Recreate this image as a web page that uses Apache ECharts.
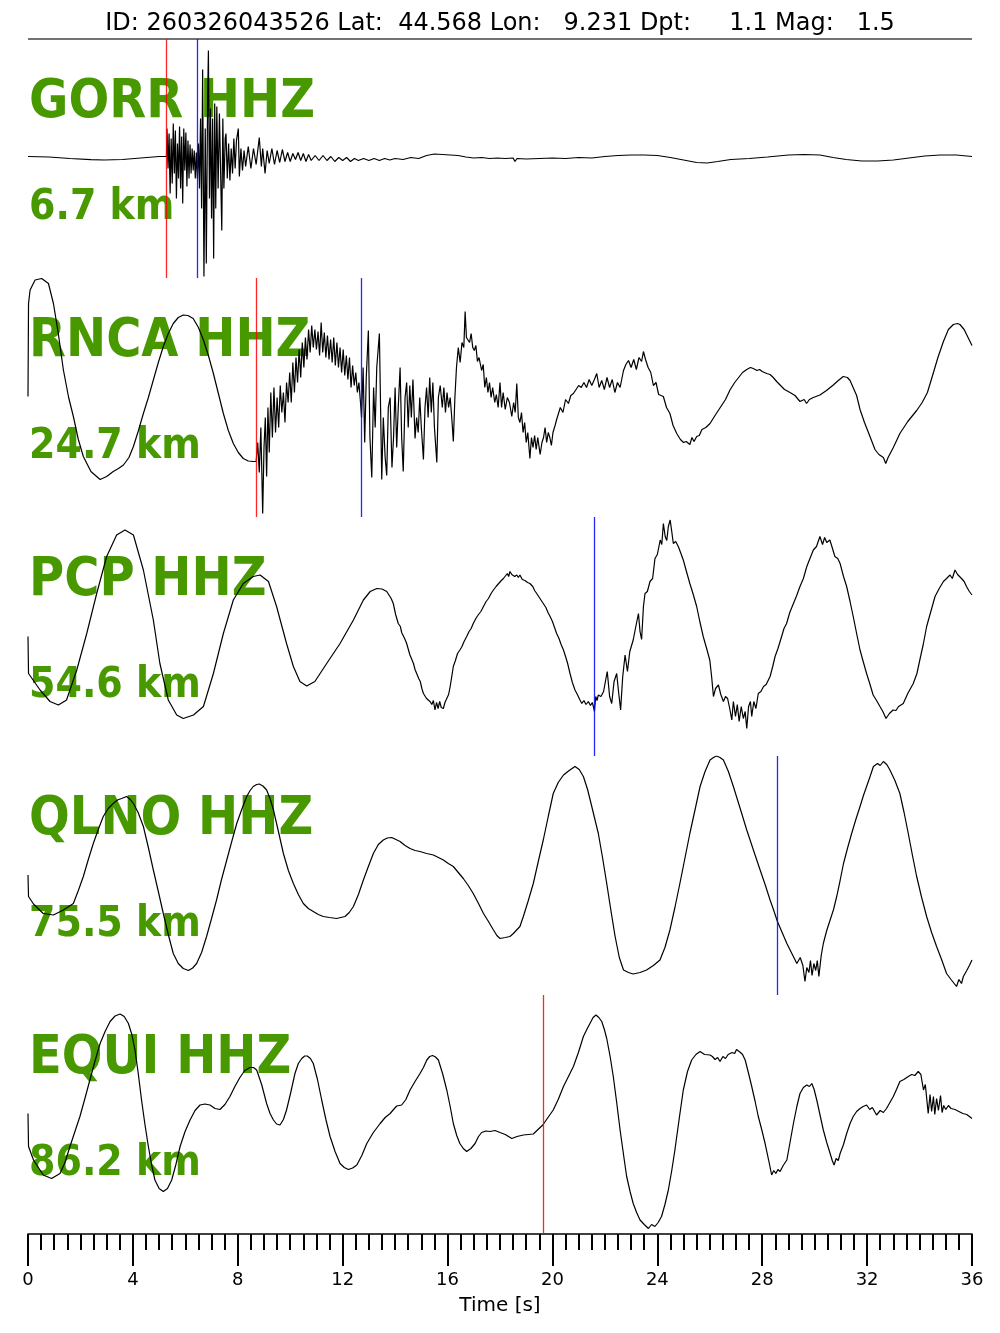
<!DOCTYPE html>
<html><head><meta charset="utf-8">
<script src="https://cdn.jsdelivr.net/npm/echarts@6/dist/echarts.min.js"></script>
<style>html,body{margin:0;padding:0;background:#fff}#c{width:1000px;height:1333px}</style>
</head><body><div id="c"></div><script>
const titleText = 'ID: 260326043526 Lat:  44.568 Lon:   9.231 Dpt:     1.1 Mag:   1.5';
const stations = ['GORR HHZ', 'RNCA HHZ', 'PCP HHZ', 'QLNO HHZ', 'EQUI HHZ'];
const distances = ['6.7 km', '24.7 km', '54.6 km', '75.5 km', '86.2 km'];
const pPicks = [5.26, 8.70, null, null, 19.64];
const sPicks = [6.45, 12.70, 21.59, 28.56, null];
const xAxisName = 'Time [s]';

const gorrTrace = [[0,2],[0.8,1.5],[1.6,0],[2.4,-1.2],[2.9,-1.5],[3.6,-1],[4.3,0.5],[5.0,2],[5.28,2],
[5.30,30],[5.34,-10],[5.38,25],[5.42,-35],[5.46,20],[5.50,-25],[5.54,35],[5.58,-15],[5.62,28],[5.66,-40],[5.70,15],[5.74,-20],[5.78,32],[5.82,-30],[5.86,22],[5.90,-45],[5.94,30],[5.98,-12],[6.02,26],[6.06,-28],[6.10,18],[6.14,-20],[6.18,14],[6.22,-15],[6.26,10],[6.30,-12],[6.34,8],[6.38,-20],[6.42,6],[6.46,-20],[6.50,15],[6.54,-30],[6.58,40],[6.62,-50],[6.66,89],[6.71,-118],[6.76,30],[6.80,-105],[6.85,60],[6.88,108],[6.92,-40],[6.96,50],[7.00,-60],[7.04,40],[7.08,-100],[7.12,55],[7.16,-50],[7.20,52],[7.25,-30],[7.30,45],[7.35,-20],[7.39,-72],[7.43,40],[7.47,-30],[7.52,20],[7.55,25],[7.60,-20],[7.65,15],[7.70,-22],[7.75,10],[7.80,-15],[7.85,20],[7.90,-10],[7.95,18],[8.02,30],[8.06,-18],[8.12,10],[8.18,-12],[8.24,8],[8.30,-8],[8.40,12],[8.50,-10],[8.60,10],[8.70,-6],[8.82,21],[8.90,-8],[8.95,10],[9.04,-15],[9.12,8],[9.20,-5],[9.30,10],[9.40,-6],[9.50,8],[9.60,-4],[9.70,9],[9.80,-3],[9.90,6],[10.0,-3],[10.1,5],[10.2,-1],[10.3,6],[10.4,-2],[10.5,5],[10.6,-3],[10.7,4],[10.8,-2],[10.95,3],[11.1,-2],[11.25,3],[11.4,-2],[11.55,2],[11.7,-3],[11.85,1],[12.0,-2],[12.15,1],[12.3,-3],[12.45,0],[12.6,-2],[12.8,0],[13.0,-2],[13.2,0],[13.4,-2],[13.6,0],[13.8,-1.5],[14.0,0],[14.3,-1],[14.6,1],[14.9,0],[15.2,3],[15.5,4.5],[15.8,4],[16.1,3.5],[16.4,3],[16.7,1.5],[17.0,0.5],[17.3,1],[17.6,0],[17.9,0.5],[18.2,0],[18.5,0.5],[18.57,-3],[18.65,0],[19.0,-0.5],[19.5,0],[20.0,0.5],[20.5,0],[21.0,1],[21.5,0.5],[22.0,2],[22.5,3],[23.0,3.5],[23.5,3.5],[24.0,3],[24.5,1],[25.0,-1.5],[25.5,-4],[25.9,-4.5],[26.3,-3],[26.8,-1],[27.5,0],[28.2,1.5],[29.0,3.5],[29.6,4],[30.2,3.5],[30.7,1],[31.2,-1],[31.8,-2.5],[32.4,-2.5],[33.0,-1.5],[33.6,0.5],[34.2,2.5],[34.8,3.5],[35.4,3.5],[36.0,2]];

const rncaTrace = [[0,1],[0.02,94],[0.08,107.5],[0.27,117.5],[0.52,119],[0.78,114],[0.97,94],[1.15,65],[1.35,27.5],[1.55,0],[1.73,-19],[1.92,-42],[2.11,-59],[2.4,-74],[2.75,-82],[3.0,-79],[3.25,-74],[3.45,-71],[3.64,-67.5],[3.85,-60],[4.02,-49],[4.2,-34],[4.40,-16],[4.59,0],[4.78,17.5],[4.97,35],[5.16,51],[5.35,64],[5.54,74],[5.73,80],[5.92,82.5],[6.1,82],[6.30,79],[6.5,70],[6.69,57.5],[6.88,42],[7.07,24],[7.26,4],[7.45,-16],[7.64,-33],[7.83,-46],[8.02,-55],[8.21,-61],[8.4,-63.5],[8.59,-64],[8.70,-64],
[8.76,-45],[8.82,-75],[8.88,-30],[8.95,-116],[9.00,-50],[9.05,-20],[9.10,-79],[9.15,-10],[9.20,-55],[9.26,5],[9.32,-40],[9.38,10],[9.44,-35],[9.50,0],[9.56,-30],[9.62,12],[9.68,-15],[9.74,5],[9.80,-25],[9.86,15],[9.92,-5],[9.98,25],[10.04,-5],[10.10,35],[10.16,5],[10.22,40],[10.28,15],[10.34,48],[10.40,20],[10.46,55],[10.52,30],[10.58,60],[10.64,38],[10.70,68],[10.76,45],[10.82,72],[10.88,50],[10.94,68],[11.00,48],[11.06,66],[11.12,42],[11.18,75],[11.24,45],[11.30,65],[11.36,40],[11.42,62],[11.48,38],[11.54,58],[11.60,35],[11.66,60],[11.72,32],[11.78,55],[11.84,30],[11.90,50],[11.96,25],[12.02,48],[12.08,22],[12.14,42],[12.20,18],[12.26,40],[12.32,10],[12.38,32],[12.44,12],[12.50,25],[12.56,5],[12.62,15],[12.68,-5],
[12.72,-20],[12.78,30],[12.84,-45],[12.90,20],[12.98,67],[13.04,-40],[13.11,-80],[13.18,10],[13.24,-30],[13.30,30],[13.40,64],[13.49,-82],[13.55,-20],[13.62,-60],[13.68,-78],[13.74,-10],[13.81,0],[13.88,-70],[13.94,-40],[14.00,10],[14.06,-50],[14.12,-10],[14.19,30],[14.25,-40],[14.31,-74],[14.38,0],[14.44,15],[14.50,-30],[14.56,12],[14.62,-20],[14.68,18],[14.76,-41],[14.82,-20],[14.88,-35],[14.94,0],[15.00,-30],[15.08,-62],[15.14,-10],[15.20,10],[15.26,-20],[15.32,20],[15.38,-15],[15.44,15],[15.50,-30],[15.59,-65],[15.65,0],[15.72,12],[15.80,-10],[15.86,10],[15.92,-15],[15.98,5],[16.04,-10],[16.10,0],[16.16,-20],[16.22,-44],[16.28,0],[16.34,30],[16.41,50],[16.48,35],[16.55,55],[16.62,50],[16.67,86],[16.72,60],[16.78,62],[16.84,55],[16.90,64],[16.96,50],[17.02,47],[17.08,52],[17.14,36],[17.20,40],[17.30,27],[17.36,33],[17.42,10],[17.48,20],[17.54,5],[17.60,15],[17.66,0],[17.72,10],[17.80,-5],[17.86,3],[17.93,-10],[18.00,15],[18.06,-10],[18.12,5],[18.20,-12],[18.28,0],[18.36,-5],[18.45,-19],[18.52,-5],[18.58,-15],[18.64,14],[18.70,-20],[18.76,-25],[18.82,-15],[18.88,-35],[18.94,-25],[19.00,-45],[19.06,-35],[19.14,-61],[19.20,-40],[19.26,-50],[19.32,-38],[19.38,-52],[19.44,-40],[19.53,-57],[19.60,-45],[19.66,-40],[19.72,-30],[19.78,-45],[19.84,-35],[19.90,-40],[19.96,-48],[20.02,-35],[20.10,-28],[20.16,-22],[20.22,-20],[20.30,-10],[20.40,-15],[20.50,-2],[20.61,-6],[20.70,2],[20.80,4],[20.90,8],[21.00,12],[21.10,10],[21.20,15],[21.30,10],[21.40,18],[21.50,12],[21.60,18],[21.69,24],[21.78,10],[21.88,17],[21.98,8],[22.08,20],[22.18,10],[22.28,18],[22.38,5],[22.48,15],[22.58,10],[22.71,27],[22.80,33],[22.90,37],[23.00,30],[23.10,38],[23.20,28],[23.30,40],[23.40,36],[23.47,46],[23.55,38],[23.65,30],[23.75,25],[23.85,12],[23.95,15],[24.05,3],[24.12,5],[24.23,1],[24.35,-10],[24.48,-16],[24.60,-28],[24.74,-36],[24.88,-42],[25.00,-45],[25.10,-44],[25.24,-47],[25.32,-40],[25.40,-44],[25.50,-39],[25.60,-38],[25.70,-32],[25.85,-30],[26.01,-26],[26.20,-18],[26.40,-10],[26.60,-2],[26.77,7.5],[26.95,15],[27.10,20],[27.25,25],[27.41,28],[27.55,30],[27.66,29],[27.80,27],[27.90,28],[28.00,26],[28.17,24],[28.30,23],[28.42,20],[28.55,16],[28.70,12],[28.85,8],[29.06,5],[29.25,2],[29.44,-4],[29.60,-2],[29.69,-6],[29.80,-2],[29.95,0],[30.20,2.5],[30.45,7],[30.71,12.5],[30.90,17],[31.09,21],[31.25,20],[31.35,17],[31.50,8],[31.60,2],[31.73,-12],[31.90,-25],[32.11,-39],[32.30,-52],[32.45,-57],[32.62,-60],[32.71,-66],[32.80,-60],[33.00,-50],[33.25,-36],[33.55,-24],[33.89,-13],[34.10,-5],[34.30,5],[34.53,25],[34.70,40],[34.91,56],[35.10,68],[35.29,73],[35.45,74],[35.54,73],[35.70,68],[35.85,60],[36.0,52]];

const pcpTrace = [[0,0],[0.02,-37],[0.46,-53.5],[0.84,-65],[1.16,-68.5],[1.47,-63.5],[1.86,-33.5],[2.24,3],[2.62,43],[3.0,80],[3.38,101.5],[3.70,106.5],[4.02,101.5],[4.40,66.5],[4.78,16.5],[5.03,-27],[5.35,-63.5],[5.67,-78.5],[5.92,-82],[6.31,-78.5],[6.69,-70],[7.07,-37],[7.45,3],[7.83,36.5],[8.21,53],[8.59,60],[8.85,61.5],[9.17,55],[9.48,30],[9.86,-7],[10.12,-30],[10.37,-45],[10.63,-49.5],[10.94,-45],[11.39,-27],[11.90,-7],[12.41,16.5],[12.79,36.5],[13.05,45],[13.30,48],[13.50,47.5],[13.68,45],[13.85,38],[13.93,33],[14.02,22],[14.08,24],[14.12,13],[14.2,10],[14.25,4],[14.32,6],[14.38,-3],[14.44,-7],[14.5,-9],[14.56,-18],[14.62,-16],[14.7,-27],[14.76,-33],[14.82,-31],[14.9,-42],[14.96,-45],[15.02,-52],[15.08,-57],[15.14,-55],[15.2,-62],[15.26,-60],[15.33,-65],[15.4,-68],[15.46,-64],[15.52,-73.5],[15.58,-66],[15.64,-72],[15.7,-65],[15.76,-71],[15.84,-72],[15.9,-66],[15.97,-65],[16.04,-58],[16.10,-50],[16.16,-40],[16.22,-30],[16.3,-24],[16.38,-17],[16.47,-13.5],[16.55,-10],[16.63,-5],[16.73,0],[16.82,5],[16.9,8],[16.98,13],[17.08,18],[17.18,22],[17.27,25],[17.37,30],[17.47,35],[17.56,38],[17.66,43],[17.75,46.5],[17.85,50],[17.95,53],[18.05,56],[18.13,58],[18.2,60],[18.28,63],[18.33,60],[18.38,65],[18.45,62],[18.5,64],[18.56,60],[18.64,61.5],[18.7,59],[18.76,61.5],[18.85,57],[18.95,56],[19.05,54],[19.14,53],[19.25,50],[19.32,46],[19.40,43],[19.5,39],[19.57,37],[19.65,33],[19.75,29],[19.83,24],[19.91,20],[20.0,15],[20.08,9],[20.16,3],[20.25,-2],[20.33,-8],[20.42,-13.5],[20.5,-20],[20.58,-27],[20.67,-37],[20.76,-46],[20.86,-53.5],[20.95,-58],[21.04,-63],[21.12,-67],[21.2,-64],[21.28,-68],[21.37,-65],[21.45,-69],[21.52,-66],[21.56,-70],[21.6,-75],[21.65,-60],[21.7,-64],[21.75,-58.5],[21.85,-60],[21.95,-55],[22.09,-35],[22.18,-60],[22.26,-67],[22.35,-45],[22.45,-37],[22.52,-55],[22.60,-73.5],[22.68,-40],[22.77,-18.5],[22.86,-35],[22.95,-15],[23.08,-3.5],[23.18,10],[23.28,23],[23.34,5],[23.40,-3],[23.47,30],[23.53,43],[23.62,45],[23.72,55],[23.82,58],[23.91,78],[24.0,82],[24.11,96.5],[24.17,92],[24.23,113],[24.3,100],[24.36,96],[24.42,110],[24.49,116.5],[24.55,105],[24.61,93],[24.7,95],[24.8,90],[24.9,83],[24.99,76.5],[25.1,66],[25.24,53],[25.37,42],[25.5,30],[25.62,15],[25.75,0],[25.88,-12],[26.0,-23.5],[26.07,-40],[26.14,-60],[26.22,-52],[26.33,-48.5],[26.42,-58],[26.52,-65],[26.6,-60],[26.68,-62],[26.76,-72],[26.84,-83.5],[26.9,-65],[26.98,-80],[27.05,-68],[27.12,-85],[27.2,-70],[27.28,-82],[27.35,-75],[27.41,-92],[27.48,-70],[27.55,-65],[27.6,-80],[27.68,-65],[27.76,-72],[27.85,-57],[27.95,-55],[28.05,-50],[28.15,-48],[28.3,-40],[28.4,-30],[28.49,-20],[28.6,-12],[28.74,0],[28.83,8],[28.93,13],[29.05,24],[29.19,33],[29.3,40],[29.44,50],[29.57,58],[29.7,70],[29.82,78],[29.95,86.5],[30.07,90],[30.2,100],[30.3,92],[30.38,99],[30.46,94],[30.58,96.5],[30.68,88],[30.77,80],[30.88,78],[30.97,73],[31.1,60],[31.22,50],[31.35,35],[31.47,20],[31.6,3],[31.73,-13.5],[31.85,-25],[31.98,-37],[32.1,-47],[32.23,-58.5],[32.36,-64],[32.49,-70],[32.6,-75],[32.72,-82],[32.85,-77],[32.99,-73.5],[33.1,-74],[33.2,-70],[33.38,-67],[33.55,-57],[33.76,-47],[33.9,-37],[34.01,-23.5],[34.14,-8],[34.27,10],[34.43,25],[34.59,40],[34.75,48],[34.91,55],[35.03,58],[35.16,61.5],[35.25,58],[35.35,66.5],[35.45,62],[35.6,58],[35.7,55],[35.79,50],[35.9,45],[36.0,41.5]];

const qlnoTrace = [[0,0.5],[0.02,-21],[0.21,-28.5],[0.58,-38],[0.97,-39.5],[1.35,-34.5],[1.73,-28],[1.92,-15],[2.11,-1],[2.3,16],[2.49,32],[2.68,46],[2.87,59],[3.06,67],[3.25,72],[3.41,75.5],[3.57,77],[3.76,79],[3.9,76],[4.02,72],[4.2,63],[4.40,49],[4.59,28],[4.78,5.5],[4.97,-16],[5.16,-38],[5.35,-59],[5.54,-78],[5.73,-88],[5.92,-93],[6.12,-95],[6.28,-92.5],[6.43,-88],[6.62,-77],[6.81,-61],[7.0,-43],[7.19,-24.5],[7.38,-4],[7.58,15.5],[7.77,34],[7.96,52],[8.15,66],[8.34,79],[8.47,85],[8.59,89],[8.72,91],[8.82,91.5],[8.96,89.5],[9.10,85.5],[9.23,77],[9.36,65.5],[9.55,44],[9.74,22],[9.93,5],[10.12,-8],[10.31,-19],[10.50,-28],[10.69,-33],[10.88,-36],[11.07,-39],[11.26,-41],[11.5,-42],[11.77,-43],[11.93,-42],[12.09,-41],[12.25,-37],[12.41,-31],[12.6,-19],[12.79,-4.5],[12.98,9],[13.17,22],[13.36,31],[13.55,35.5],[13.7,37.5],[13.87,38],[14.03,36],[14.19,34],[14.38,30],[14.57,27],[14.76,25],[14.95,24],[15.2,22],[15.46,20.5],[15.65,18],[15.84,15.5],[16.03,12],[16.22,9],[16.41,3],[16.60,-3],[16.79,-10],[16.98,-18],[17.18,-28],[17.37,-38],[17.56,-46],[17.75,-54.5],[17.88,-60],[18.0,-63],[18.2,-62],[18.38,-61],[18.51,-58],[18.76,-51],[18.89,-41],[19.08,-25],[19.27,-8],[19.46,14],[19.65,35.5],[19.84,59],[20.03,82],[20.22,93],[20.42,100.5],[20.64,105],[20.86,109],[21.02,106],[21.18,99],[21.34,86],[21.5,69],[21.62,56],[21.75,42],[21.91,18],[22.07,-8],[22.23,-35],[22.39,-61],[22.55,-82],[22.71,-94.5],[22.9,-97],[23.08,-98.5],[23.34,-97],[23.59,-94.5],[23.85,-90],[24.1,-84.5],[24.29,-72],[24.48,-54.5],[24.67,-32],[24.86,-8],[25.05,17],[25.24,42],[25.44,66],[25.63,89],[25.82,104],[26.01,115.5],[26.14,118],[26.26,119.5],[26.39,118],[26.52,115.5],[26.71,104],[26.9,89],[27.16,67],[27.41,45.5],[27.67,25],[27.92,5.5],[28.11,-9],[28.3,-24.5],[28.44,-35],[28.58,-46],[28.76,-57],[28.94,-68],[29.13,-78],[29.32,-88],[29.45,-82],[29.55,-90],[29.63,-106],[29.7,-92],[29.78,-97],[29.84,-85],[29.9,-100],[29.97,-88],[30.04,-95],[30.1,-85],[30.16,-101],[30.25,-80],[30.33,-68],[30.46,-55],[30.59,-44.5],[30.72,-34],[30.84,-21],[30.97,-5],[31.1,12],[31.25,27],[31.41,42],[31.57,56],[31.73,69],[31.86,80],[31.98,89],[32.1,98],[32.24,109],[32.4,112],[32.5,110],[32.62,114],[32.75,111],[32.87,105.5],[33.06,95],[33.25,82],[33.41,63],[33.57,42],[33.73,20],[33.89,-1],[34.08,-22],[34.27,-41],[34.46,-57],[34.65,-71],[34.84,-84],[35.03,-98],[35.2,-104],[35.32,-108],[35.41,-111],[35.5,-104],[35.6,-108],[35.67,-101],[35.8,-95],[35.9,-90],[36.0,-84.5]];

const equiTrace = [[0,1],[0.02,-32],[0.21,-45.5],[0.58,-60.5],[0.9,-64],[1.22,-59],[1.41,-48],[1.6,-32],[1.79,-17],[1.98,-2],[2.17,16],[2.36,34.5],[2.55,53],[2.75,71],[2.94,83],[3.13,93],[3.32,98.5],[3.51,100.5],[3.67,98],[3.83,91],[3.96,80],[4.08,64.5],[4.2,42],[4.33,14.5],[4.46,-10],[4.59,-32],[4.72,-51],[4.84,-65.5],[5.0,-74],[5.16,-77],[5.32,-74],[5.48,-65.5],[5.64,-50],[5.8,-32],[5.99,-17],[6.18,-5.5],[6.37,4],[6.56,9.5],[6.75,10.5],[6.94,9.5],[7.13,6],[7.32,5],[7.51,10],[7.7,18],[7.89,28],[8.08,37],[8.27,44],[8.47,47],[8.6,47],[8.72,44.5],[8.91,30],[9.1,11],[9.23,1],[9.36,-5.5],[9.48,-9.5],[9.61,-10.5],[9.74,-5],[9.86,4.5],[10.02,22],[10.18,41],[10.31,51],[10.44,56],[10.55,58.5],[10.65,58.5],[10.77,56],[10.88,51],[11.04,35],[11.2,14.5],[11.36,-5],[11.52,-22],[11.71,-37],[11.9,-49],[12.06,-53],[12.22,-55],[12.38,-53.5],[12.54,-50.5],[12.73,-41],[12.92,-29],[13.17,-18],[13.43,-9],[13.62,-3],[13.81,1],[13.94,5],[14.06,8.5],[14.25,9.5],[14.41,15],[14.57,24.5],[14.76,33],[14.95,41],[15.08,47],[15.21,54.5],[15.32,58],[15.43,59],[15.54,57.5],[15.65,54.5],[15.81,41],[15.97,24.5],[16.1,8],[16.22,-9],[16.35,-21],[16.47,-29],[16.6,-34],[16.73,-37],[16.89,-34],[17.05,-29],[17.18,-22],[17.3,-18],[17.46,-16.5],[17.62,-17],[17.81,-16],[18.0,-18],[18.2,-20],[18.45,-24],[18.65,-22],[18.89,-20.5],[19.08,-20],[19.27,-19.5],[19.45,-15],[19.63,-10.5],[19.83,-3],[20.03,4.5],[20.22,15],[20.42,28],[20.61,38],[20.8,48],[20.99,62],[21.18,78],[21.31,85],[21.43,91],[21.55,97],[21.66,99.5],[21.77,97],[21.88,93],[21.98,85],[22.07,76],[22.2,58],[22.32,38],[22.45,12],[22.58,-15.5],[22.71,-40],[22.83,-62],[22.96,-77],[23.08,-89],[23.21,-98],[23.34,-105.5],[23.5,-110],[23.66,-114],[23.78,-110],[23.91,-112],[24.03,-108],[24.16,-102],[24.29,-90],[24.42,-75.5],[24.55,-56],[24.67,-35.5],[24.83,-5],[24.99,24.5],[25.15,43],[25.31,54.5],[25.47,60],[25.63,63],[25.8,60],[26.01,59.5],[26.1,58],[26.2,55],[26.3,57],[26.39,53],[26.5,58],[26.6,56],[26.7,60],[26.77,59.5],[26.85,62],[26.95,61],[27.02,65],[27.09,66],[27.17,62],[27.25,60],[27.35,54.5],[27.48,41],[27.6,28],[27.73,13],[27.85,-2],[27.98,-15],[28.11,-29],[28.24,-45],[28.36,-60.5],[28.44,-56],[28.52,-59],[28.6,-55],[28.68,-57],[28.8,-51],[28.94,-45.5],[29.06,-28],[29.19,-9],[29.32,8],[29.44,21],[29.57,27],[29.7,29.5],[29.8,28],[29.89,31],[29.98,25],[30.08,14.5],[30.2,0],[30.33,-15.5],[30.46,-28],[30.59,-39],[30.67,-46],[30.74,-50.5],[30.82,-44],[30.9,-46],[30.97,-39],[31.1,-30],[31.22,-19],[31.35,-9],[31.47,-2],[31.6,3],[31.73,6],[31.85,8],[31.98,9.5],[32.1,5],[32.2,7],[32.36,-0.5],[32.5,4],[32.62,2],[32.74,6],[32.87,12],[33.0,18],[33.12,25],[33.25,33],[33.4,35],[33.57,38],[33.7,40],[33.82,39],[33.95,43],[34.05,40],[34.15,24.5],[34.22,30],[34.33,1],[34.4,20],[34.46,3],[34.53,18],[34.58,0],[34.65,16],[34.72,4],[34.8,19],[34.86,2],[34.92,9],[35.0,5],[35.1,9],[35.2,6],[35.35,5],[35.5,3],[35.65,1],[35.8,0],[36.0,-4]];

const traces = [gorrTrace, rncaTrace, pcpTrace, qlnoTrace, equiTrace];

const FONT = 'DejaVu Sans';
const panelTop = 39, panelH = 239, left = 28, right = 28;
const green = '#489800';

const grids = [], xAxes = [], yAxes = [], series = [], graphics = [];
traces.forEach((tr, i) => {
  const top = panelTop + panelH * i;
  grids.push({left: left, right: right, top: top, height: panelH, containLabel: false});
  const last = i === traces.length - 1;
  xAxes.push({
    type: 'value', gridIndex: i, min: 0, max: 36, interval: 4, show: last,
    name: last ? xAxisName : '', nameLocation: 'middle', nameGap: 62,
    nameTextStyle: {fontFamily: FONT, fontSize: 20, color: '#000'},
    axisLine: {show: true, onZero: false, lineStyle: {color: '#000', width: 1.5}},
    axisTick: {show: true, length: 32, lineStyle: {color: '#000', width: 2}},
    minorTick: {show: true, splitNumber: 8, length: 16, lineStyle: {color: '#000', width: 2}},
    axisLabel: {show: true, fontFamily: FONT, fontSize: 18, color: '#000', margin: 37},
    splitLine: {show: false}
  });
  yAxes.push({type: 'value', gridIndex: i, min: -119.5, max: 119.5, show: false, splitLine: {show: false}});
  const ml = [];
  if (pPicks[i] !== null) ml.push({xAxis: pPicks[i], lineStyle: {color: 'rgba(255,0,0,0.85)', width: 1.3, type: 'solid'}});
  if (sPicks[i] !== null) ml.push({xAxis: sPicks[i], lineStyle: {color: 'rgba(0,0,255,0.85)', width: 1.3, type: 'solid'}});
  series.push({
    type: 'line', xAxisIndex: i, yAxisIndex: i, data: tr, showSymbol: false, symbol: 'none',
    lineStyle: {color: '#000', width: 1.2}, z: 3, animation: false, silent: true,
    markLine: {silent: true, symbol: ['none', 'none'], label: {show: false}, animation: false, data: ml}
  });
  graphics.push({type: 'text', z: 1, x: 29, y: top + 64, scaleY: 1.11, style: {text: stations[i], fill: green, font: 'bold 48px "' + FONT + '"', verticalAlign: 'middle', align: 'left'}});
  graphics.push({type: 'text', z: 1, x: 29, y: top + 169, scaleY: 1.11, style: {text: distances[i], fill: green, font: 'bold 38px "' + FONT + '"', verticalAlign: 'middle', align: 'left'}});
});

graphics.push({type: 'text', z: 1, x: 500, y: 23.3, scaleY: 1.05, style: {text: titleText, fill: '#000', font: '24px "' + FONT + '"', verticalAlign: 'middle', align: 'center'}});
graphics.push({type: 'line', z: 1, shape: {x1: 28, y1: 39, x2: 972, y2: 39}, style: {stroke: '#444', lineWidth: 1.5}});

const chart = echarts.init(document.getElementById('c'), null, {renderer: 'canvas'});
chart.setOption({
  animation: false,
  backgroundColor: '#fff',
  grid: grids, xAxis: xAxes, yAxis: yAxes, series: series,
  graphic: {elements: graphics}
});
</script></body></html>
